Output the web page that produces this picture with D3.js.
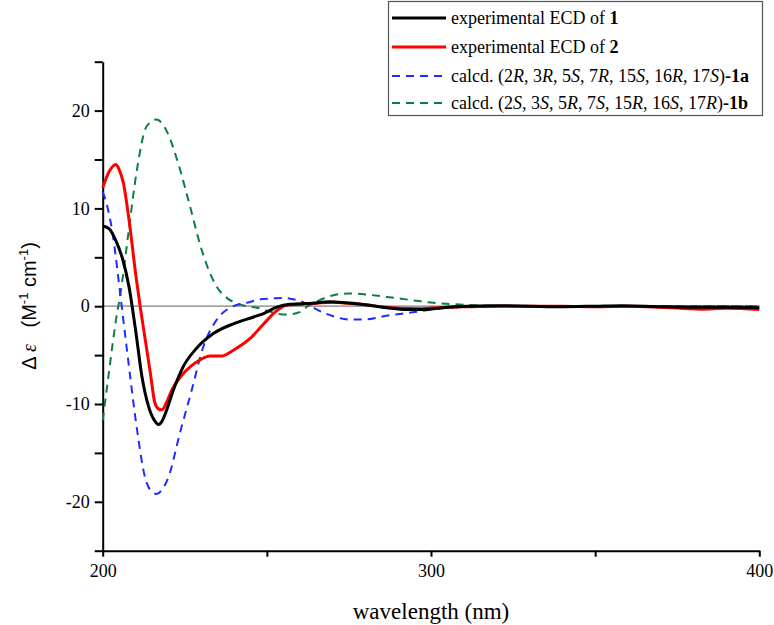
<!DOCTYPE html>
<html>
<head>
<meta charset="utf-8">
<script src="https://cdn.jsdelivr.net/npm/d3@7/dist/d3.min.js"></script>
<style>
  html, body { margin: 0; padding: 0; background: #fff; }
  svg { display: block; }
  .serif { font-family: "Liberation Serif", "Times New Roman", "DejaVu Serif", serif; }
  .sans { font-family: "Liberation Sans", Arial, "DejaVu Sans", sans-serif; }
</style>
</head>
<body>
<svg id="chart" width="774" height="625"></svg>
<script>
// ---- data ----
const exp1Wl  = [200, 202, 204, 206, 208, 210, 212, 214, 216, 217, 218, 219.5, 221.5, 224.5, 228.6, 233.7, 239.8, 246, 249, 253, 257, 264, 269, 274, 280, 286.5, 292.6, 297.7, 305, 312, 320, 330, 340, 350, 358, 370, 380, 390, 400];
const exp1Val = [8.2, 7.9, 6.7, 4.9, 2.0, -2.4, -7.3, -10.3, -11.8, -12.1, -11.8, -10.6, -8.6, -6.2, -4.3, -2.8, -1.8, -1.1, -0.75, -0.1, 0.2, 0.3, 0.45, 0.35, 0.15, -0.15, -0.35, -0.35, -0.1, 0, 0.05, 0, -0.05, 0, 0.05, -0.05, -0.1, -0.1, -0.15];

const exp2Wl  = [200, 202, 204, 205, 206.3, 208.3, 210, 211.4, 213, 214.5, 215.9, 217, 218, 219.5, 221, 224, 227, 229.6, 232.7, 236.2, 239.8, 244.9, 248.8, 252.5, 256, 260, 265, 270, 275, 280, 286, 290, 297, 305, 312, 320, 340, 350, 360, 370, 382, 390, 400];
const exp2Val = [12.1, 13.8, 14.5, 14.0, 12.6, 8.1, 3.4, 0, -3.5, -6.8, -9.9, -10.5, -10.6, -9.8, -8.6, -7.1, -6.1, -5.5, -5.1, -5.1, -4.5, -3.3, -1.9, -0.6, 0.1, 0.2, 0.3, 0.4, 0.3, 0.15, -0.1, -0.2, -0.25, -0.1, -0.05, 0, 0, -0.05, 0, -0.1, -0.3, -0.2, -0.35];

const calcAWl  = [200, 201, 202, 203, 204, 205, 206, 207, 208.3, 210.4, 212.9, 214.5, 216.4, 218, 220, 223.5, 227.1, 230.6, 234.7, 239.8, 244, 248, 252, 255, 258, 260, 263, 265, 270, 275, 280, 286, 295, 302, 308, 315, 330, 400];
const calcAVal = [11.7, 10.7, 9.3, 7.5, 5.0, 2.2, -0.6, -3.4, -7.0, -12.5, -17.5, -18.8, -19.2, -18.8, -17.5, -13.0, -8.6, -4.2, -1.4, 0, 0.35, 0.7, 0.8, 0.85, 0.7, 0.55, 0.1, -0.3, -1.0, -1.35, -1.35, -1.0, -0.6, -0.25, -0.1, 0, 0, 0];

const calcBWl  = [200, 202, 204, 205.5, 207.8, 210.4, 213.4, 216.4, 219.5, 223, 226.6, 230.2, 234.2, 238, 240.8, 244, 247, 250, 253, 256, 260, 262.5, 265, 270, 275, 280, 286.5, 294.6, 300.7, 306.8, 313, 320, 330, 400];
const calcBVal = [-11.7, -6.5, -1.5, 1.5, 7.4, 13.9, 18.4, 19.1, 17.9, 14.6, 10.2, 5.7, 2.3, 0.8, 0.3, 0, -0.15, -0.45, -0.75, -0.85, -0.6, 0, 0.45, 1.1, 1.3, 1.2, 0.95, 0.6, 0.35, 0.2, 0.1, 0.03, 0, 0];

const xTicks = [200, 250, 300, 350, 400];
const xTickLabels = ["200", "", "300", "", "400"];
const yTicks = [-25, -20, -15, -10, -5, 0, 5, 10, 15, 20, 25];
const yTickLabels = ["", "-20", "", "-10", "", "0", "", "10", "", "20", ""];

// ---- chart ----
const svg = d3.select("#chart");
const x = d3.scaleLinear().domain([200, 400]).range([102.7, 759.3]);
const y = d3.scaleLinear().domain([-25, 25]).range([550.7, 61.7]);

// zero line
svg.append("line")
  .attr("x1", x(200)).attr("x2", x(400))
  .attr("y1", y(0)).attr("y2", y(0))
  .attr("stroke", "#808080").attr("stroke-width", 1.2);

// axes
const yAxis = d3.axisLeft(y).tickValues(yTicks)
  .tickFormat((d, i) => yTickLabels[i]).tickSize(8).tickSizeOuter(0).tickPadding(5);
const gy = svg.append("g").attr("transform", `translate(${x(200)},0)`).call(yAxis);
const xAxis = d3.axisBottom(x).tickValues(xTicks)
  .tickFormat((d, i) => xTickLabels[i]).tickSize(6).tickSizeOuter(0).tickPadding(8);
const gx = svg.append("g").attr("transform", `translate(0,${y(-25)})`).call(xAxis);

[gx, gy].forEach(g => {
  g.attr("font-family", null).attr("font-size", null).attr("class", "serif");
  g.select(".domain").attr("stroke", "#000").attr("stroke-width", 2);
  g.selectAll(".tick line").attr("stroke", "#000").attr("stroke-width", 2);
  g.selectAll(".tick text").attr("fill", "#000").attr("class", "serif").attr("font-size", 18);
});

// series
function series(wl, val) { return wl.map((w, i) => [w, val[i]]); }
const line = d3.line().x(d => x(d[0])).y(d => y(d[1])).curve(d3.curveMonotoneX);

const plot = svg.append("g");
plot.append("path").datum(series(calcBWl, calcBVal)).attr("d", line)
  .attr("fill", "none").attr("stroke", "#0a7f3f").attr("stroke-width", 2).attr("stroke-dasharray", "8,6");
plot.append("path").datum(series(calcAWl, calcAVal)).attr("d", line)
  .attr("fill", "none").attr("stroke", "#1f2bff").attr("stroke-width", 2).attr("stroke-dasharray", "8,6");
plot.append("path").datum(series(exp2Wl, exp2Val)).attr("d", line)
  .attr("fill", "none").attr("stroke", "#ff0000").attr("stroke-width", 3);
plot.append("path").datum(series(exp1Wl, exp1Val)).attr("d", line)
  .attr("fill", "none").attr("stroke", "#000").attr("stroke-width", 3);

// axis titles
svg.append("text")
  .attr("class", "serif")
  .attr("x", 431).attr("y", 619)
  .attr("text-anchor", "middle")
  .attr("font-size", 23)
  .text("wavelength (nm)");

const yl = svg.append("text")
  .attr("class", "sans")
  .attr("transform", "translate(36,306) rotate(-90)")
  .attr("text-anchor", "middle")
  .attr("font-size", 20);
yl.append("tspan").text("Δ ");
yl.append("tspan").attr("class", "serif").attr("font-style", "italic").text("ε");
yl.append("tspan").text("\u00a0\u00a0\u00a0(M");
yl.append("tspan").attr("dy", -8).attr("font-size", 13).text("-1");
yl.append("tspan").attr("dy", 8).text(" cm");
yl.append("tspan").attr("dy", -8).attr("font-size", 13).text("-1");
yl.append("tspan").attr("dy", 8).text(")");

// legend
const legendRows = [
  { color: "#000", width: 3, dash: null, parts: [["experimental ECD of ", ""], ["1", "b"]] },
  { color: "#ff0000", width: 3, dash: null, parts: [["experimental ECD of ", ""], ["2", "b"]] },
  { color: "#1f2bff", width: 2, dash: "8,6", parts: [["calcd. (2", ""], ["R", "i"], [", 3", ""], ["R", "i"], [", 5", ""], ["S", "i"], [", 7", ""], ["R", "i"], [", 15", ""], ["S", "i"], [", 16", ""], ["R", "i"], [", 17", ""], ["S", "i"], [")", ""], ["-1a", "b"]] },
  { color: "#0a7f3f", width: 2, dash: "8,6", parts: [["calcd. (2", ""], ["S", "i"], [", 3", ""], ["S", "i"], [", 5", ""], ["R", "i"], [", 7", ""], ["S", "i"], [", 15", ""], ["R", "i"], [", 16", ""], ["S", "i"], [", 17", ""], ["R", "i"], [")", ""], ["-1b", "b"]] }
];
const legendY = [18, 47, 76, 103];
svg.append("rect")
  .attr("x", 388.5).attr("y", 1.5).attr("width", 374).attr("height", 114)
  .attr("fill", "#fff").attr("stroke", "#555").attr("stroke-width", 1.2);
legendRows.forEach((r, i) => {
  const ly = legendY[i];
  svg.append("line").attr("x1", 392).attr("x2", 446).attr("y1", ly).attr("y2", ly)
    .attr("stroke", r.color).attr("stroke-width", r.width)
    .attr("stroke-dasharray", r.dash);
  const t = svg.append("text").attr("class", "serif").attr("x", 451).attr("y", ly + 6)
    .attr("font-size", 18);
  r.parts.forEach(p => {
    const s = t.append("tspan").text(p[0]);
    if (p[1] === "b") s.attr("font-weight", "bold");
    if (p[1] === "i") s.attr("font-style", "italic");
  });
});
</script>
</body>
</html>
